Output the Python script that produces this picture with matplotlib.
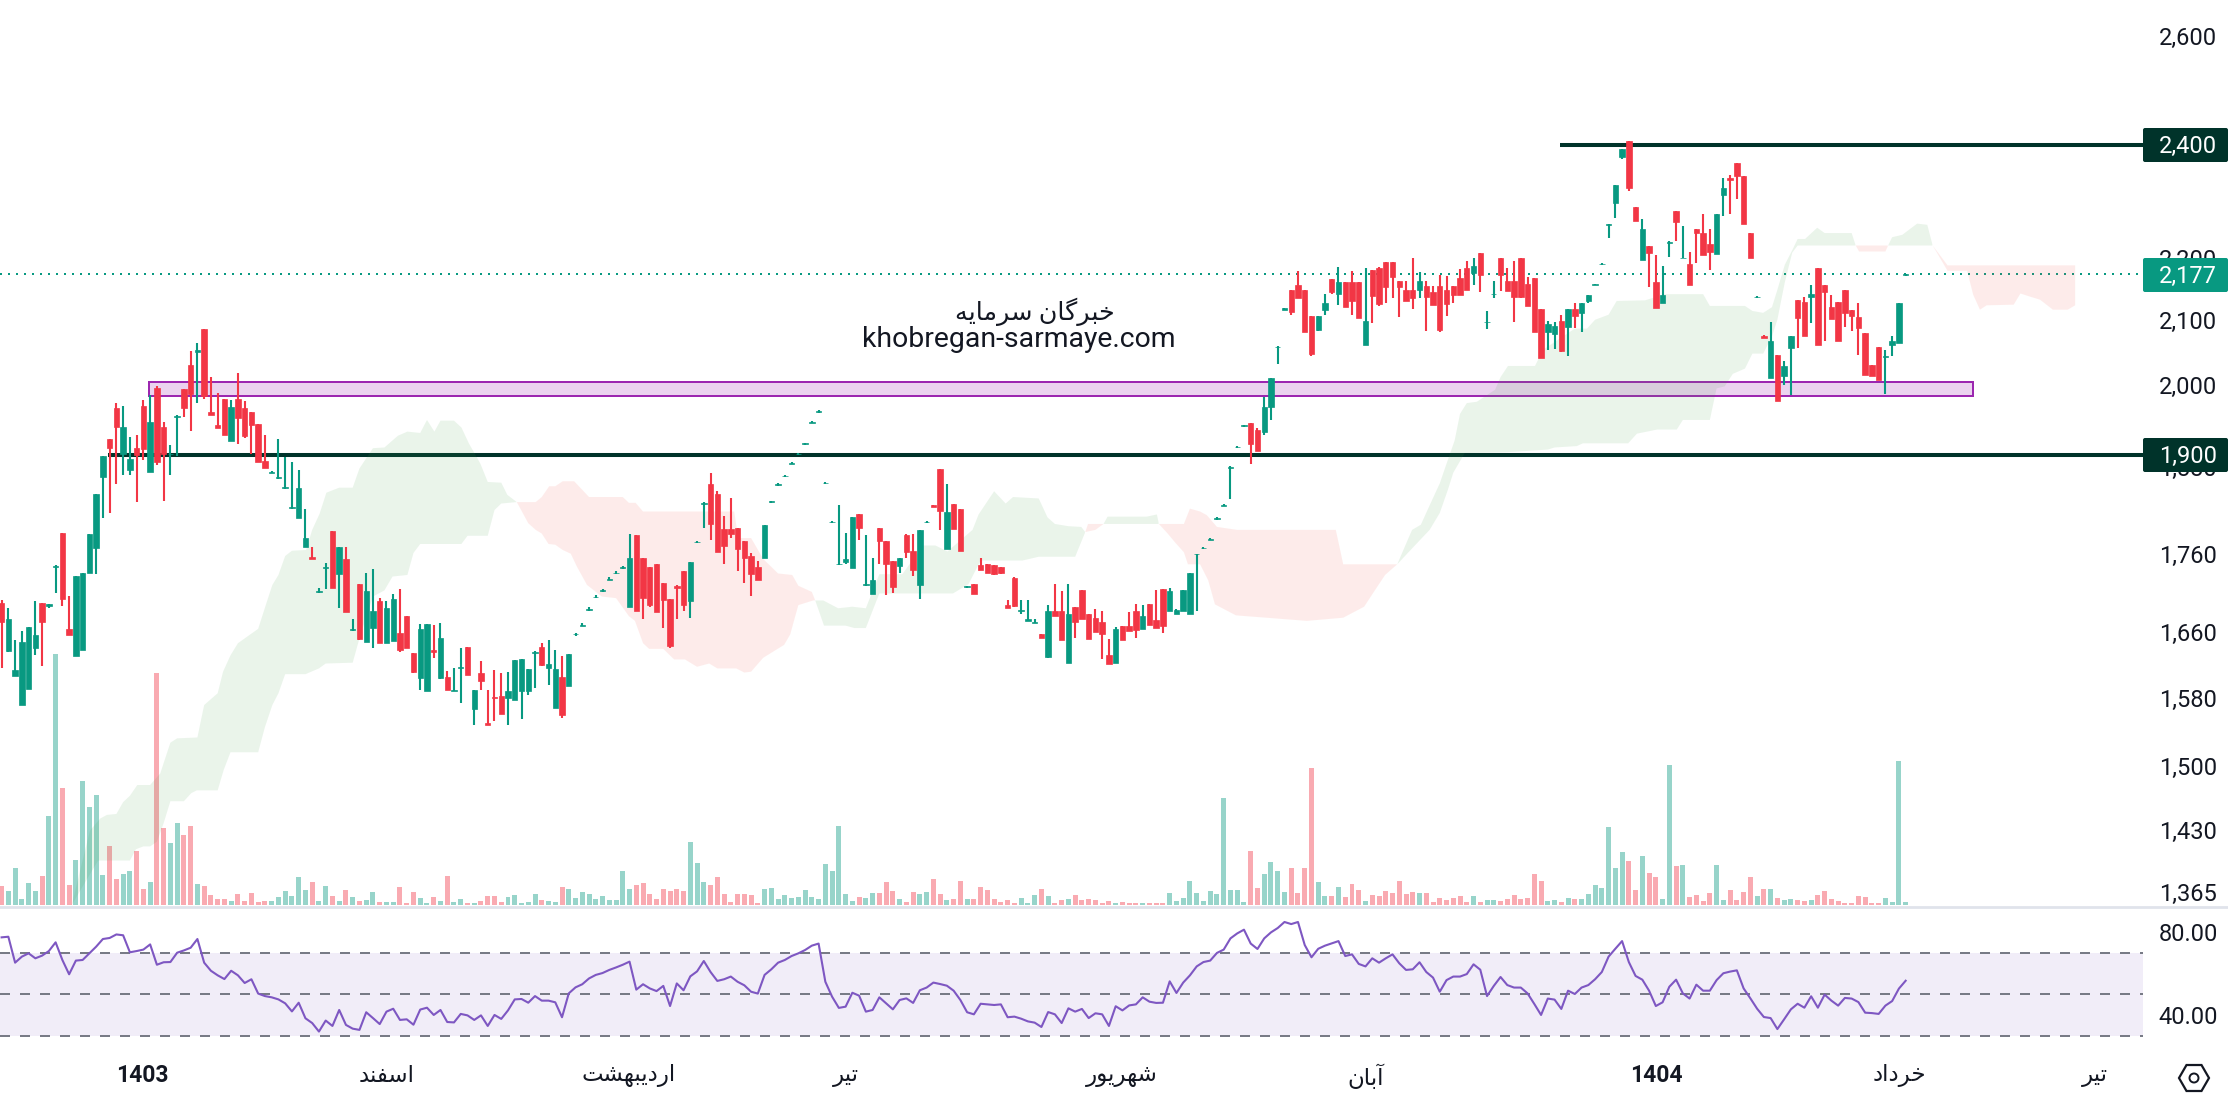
import numpy as np
import matplotlib
matplotlib.use("Agg")
import matplotlib.pyplot as plt
from matplotlib.patches import FancyBboxPatch, RegularPolygon, Circle, Rectangle
from matplotlib.ticker import NullLocator
from matplotlib.transforms import ScaledTranslation

plt.rcParams['font.family'] = ['Roboto', 'DejaVu Sans']

open_ = [1700,1639,1609,1574,1593,1643,1700,1696,1747,1792,1667,1633,1640,1739,1771,1869,1923,1969,1902,1879,
1910,1972,1876,1999,1941,1901,1956,1997,2034,2054,2090,1963,1944,1982,1920,1982,1969,1963,1945,1892,
1875,1868,1854,1826,1812,1773,1760,1714,1745,1795,1737,1757,1666,1724,1651,1668,1702,1649,1652,1662,
1683,1637,1606,1591,1640,1606,1607,1591,1619,1644,1569,1612,1553,1584,1585,1582,1580,1591,1591,1637,
1644,1618,1570,1608,1597,1660,1671,1691,1707,1715,1730,1738,1745,1694,1789,1759,1746,1751,1725,1705,
1721,1741,1702,1779,1832,1859,1845,1797,1797,1798,1781,1761,1747,1758,1834,1858,1870,1888,1901,1916,
1947,1963,1860,1806,1750,1753,1745,1818,1723,1711,1799,1781,1754,1748,1789,1767,1723,1806,1830,1880,
1770,1832,1825,1720,1724,1749,1750,1749,1746,1697,1732,1690,1677,1674,1660,1632,1690,1690,1625,1694,
1716,1686,1681,1676,1634,1625,1670,1670,1690,1667,1698,1678,1718,1689,1686,1689,1686,1763,1771,1783,
1811,1829,1882,1911,1942,1947,1936,1934,1970,2061,2120,2152,2160,2152,2110,2088,2119,2169,2145,2164,
2164,2164,2065,2184,2187,2197,2197,2167,2152,2152,2151,2158,2148,2158,2152,2158,2171,2187,2179,2212,
2100,2145,2204,2167,2167,2204,2161,2171,2121,2085,2082,2102,2093,2121,2115,2134,2160,2194,2260,2297,
2378,2407,2290,2201,2224,2165,2131,2230,2283,2204,2194,2253,2246,2228,2211,2311,2341,2368,2344,2246,
2140,2079,2013,2049,2017,2060,2135,2132,2140,2188,2159,2124,2132,2152,2120,2108,2083,2034,2062,2046,
2065,2067,2176]
high = [1703,1693,1653,1664,1669,1702,1700,1698,1749,1792,1709,1735,1739,1791,1845,1899,1923,1976,1972,1926,
1929,1981,1988,2002,1948,1915,1958,1997,2055,2068,2090,2015,1991,1982,1981,2021,1979,1963,1945,1929,
1877,1923,1897,1890,1879,1824,1773,1719,1752,1795,1773,1773,1679,1724,1739,1744,1706,1702,1711,1718,
1683,1637,1673,1673,1672,1674,1615,1618,1643,1644,1592,1627,1592,1616,1612,1614,1628,1630,1617,1639,
1649,1653,1640,1633,1636,1662,1674,1694,1710,1718,1733,1741,1748,1791,1789,1759,1746,1751,1725,1705,
1723,1741,1753,1781,1834,1874,1850,1815,1839,1798,1781,1765,1755,1802,1836,1860,1872,1890,1903,1918,
1949,1965,1862,1808,1830,1792,1813,1818,1789,1759,1799,1781,1754,1759,1790,1791,1796,1808,1830,1880,
1859,1832,1825,1722,1724,1759,1750,1749,1747,1704,1734,1704,1704,1680,1660,1697,1724,1715,1724,1695,
1716,1686,1692,1690,1654,1669,1670,1688,1698,1697,1698,1716,1718,1719,1692,1716,1738,1764,1773,1785,
1813,1831,1884,1913,1944,1947,1939,1985,2013,2063,2122,2152,2183,2152,2110,2110,2145,2169,2189,2164,
2183,2164,2187,2184,2189,2197,2197,2167,2167,2205,2181,2167,2158,2176,2174,2158,2186,2200,2204,2212,
2118,2167,2204,2187,2200,2205,2173,2171,2121,2102,2100,2111,2121,2131,2131,2144,2162,2196,2262,2328,
2393,2407,2290,2270,2224,2209,2191,2232,2283,2258,2214,2253,2278,2253,2278,2341,2346,2368,2344,2246,
2142,2080,2100,2049,2040,2078,2135,2141,2159,2188,2159,2144,2132,2152,2120,2131,2083,2034,2062,2056,
2079,2131,2177]
low = [1618,1638,1609,1574,1593,1634,1621,1693,1712,1696,1659,1633,1640,1739,1737,1812,1819,1859,1872,1872,
1834,1893,1876,1886,1835,1872,1899,1956,1935,1976,1982,1958,1939,1929,1920,1916,1925,1902,1890,1882,
1874,1866,1852,1824,1812,1773,1757,1712,1718,1719,1693,1688,1664,1653,1651,1643,1649,1649,1652,1638,
1643,1612,1592,1591,1631,1605,1592,1591,1576,1610,1551,1592,1551,1555,1563,1551,1580,1558,1586,1594,
1621,1598,1570,1559,1597,1658,1670,1690,1706,1714,1729,1737,1744,1694,1690,1680,1694,1688,1668,1643,
1680,1690,1681,1778,1799,1782,1766,1751,1785,1741,1725,1709,1729,1758,1833,1857,1869,1887,1900,1915,
1946,1962,1859,1805,1749,1750,1745,1782,1721,1711,1750,1710,1712,1738,1759,1735,1705,1805,1827,1796,
1770,1797,1767,1719,1711,1742,1738,1736,1737,1693,1694,1686,1677,1674,1656,1631,1683,1653,1625,1655,
1680,1654,1663,1630,1624,1625,1653,1664,1655,1667,1672,1668,1662,1689,1686,1689,1686,1690,1770,1782,
1810,1828,1838,1910,1941,1887,1906,1929,1951,2035,2120,2111,2139,2085,2048,2086,2111,2145,2127,2125,
2111,2107,2065,2099,2126,2131,2139,2109,2134,2121,2139,2086,2127,2085,2110,2131,2144,2152,2160,2148,
2089,2139,2150,2150,2100,2139,2126,2085,2044,2057,2058,2054,2048,2091,2085,2131,2159,2193,2237,2271,
2375,2319,2266,2201,2157,2122,2131,2206,2233,2204,2160,2196,2209,2184,2211,2275,2278,2304,2261,2205,
2139,2076,2013,1979,2003,1988,2060,2079,2099,2065,2071,2105,2070,2092,2086,2049,2018,2017,2011,1990,
2048,2067,2175]
close = [1676,1679,1616,1651,1669,1659,1675,1698,1748,1705,1659,1735,1739,1790,1845,1899,1910,1941,1941,1895,
1900,1909,1948,1890,1902,1902,1957,1969,1990,2057,1987,1958,1939,1929,1970,1954,1928,1944,1890,1882,
1876,1869,1855,1827,1854,1785,1757,1715,1746,1719,1773,1688,1667,1654,1715,1690,1649,1693,1705,1640,
1643,1614,1667,1673,1638,1656,1592,1592,1620,1610,1592,1603,1551,1582,1563,1591,1628,1630,1617,1638,
1622,1623,1617,1562,1636,1661,1672,1692,1708,1716,1731,1739,1746,1759,1690,1706,1697,1688,1704,1645,
1719,1697,1753,1780,1833,1804,1766,1774,1790,1770,1758,1737,1730,1802,1835,1859,1871,1889,1902,1917,
1948,1964,1861,1807,1751,1757,1813,1799,1724,1730,1781,1750,1720,1759,1766,1743,1796,1807,1827,1822,
1821,1797,1767,1721,1711,1742,1738,1737,1739,1693,1696,1691,1680,1676,1656,1690,1683,1653,1686,1676,
1680,1654,1663,1661,1624,1667,1653,1664,1665,1683,1672,1668,1670,1715,1691,1716,1738,1764,1772,1784,
1812,1830,1883,1912,1943,1916,1906,1970,2013,2062,2122,2116,2139,2085,2051,2110,2131,2148,2164,2125,
2134,2107,2102,2142,2129,2157,2173,2157,2134,2139,2167,2140,2127,2088,2129,2144,2144,2152,2191,2176,
2101,2146,2176,2150,2140,2140,2126,2085,2044,2097,2094,2055,2121,2110,2131,2144,2161,2195,2261,2328,
2393,2323,2266,2253,2212,2122,2143,2231,2265,2205,2160,2246,2209,2214,2278,2324,2337,2344,2261,2205,
2141,2076,2071,1979,2032,2078,2106,2079,2146,2065,2148,2105,2070,2115,2110,2091,2018,2017,2011,2047,
2071,2131,2177]
volume = [19,14,37,6,22,14,29,89,251,117,20,45,124,98,110,30,59,26,31,34,
54,16,23,232,77,62,82,70,79,21,19,10,6,6,4,11,4,12,3,4,
4,8,14,9,28,15,23,4,19,9,4,15,8,4,5,13,3,3,3,18,
2,13,7,2,8,4,29,3,6,2,2,4,9,9,3,8,10,2,3,11,
5,4,3,18,16,7,13,11,6,9,5,5,34,16,20,22,11,6,16,14,
16,14,63,42,23,20,28,11,3,11,11,10,2,16,17,6,10,7,8,15,
8,6,41,34,79,11,4,8,7,12,12,23,14,6,3,13,11,13,26,11,
5,6,24,6,6,18,15,6,3,5,2,7,2,10,16,9,2,5,6,10,
5,6,5,2,4,2,3,2,2,2,2,2,2,12,4,7,24,12,4,14,
11,107,15,15,3,54,17,31,43,34,13,37,12,37,137,23,9,9,18,8,
21,15,4,10,9,14,12,24,11,13,12,12,3,7,5,7,9,3,9,3,
5,5,4,6,10,6,7,31,24,4,5,3,7,6,6,11,20,17,78,37,
53,44,15,49,32,28,6,140,39,40,8,10,4,12,40,5,15,5,13,28,
9,16,16,7,5,6,5,4,5,10,14,6,4,2,2,9,8,2,2,7,
3,144,3]
rsi = [77.3,77.6,65.1,68.0,69.6,67.2,68.5,70.7,74.9,66.4,59.5,66.1,66.4,69.6,72.8,76.5,77.0,78.7,78.3,70.1,
70.7,71.4,73.9,64.1,65.3,65.4,69.9,71.0,72.3,76.5,65.1,61.2,59.0,57.2,61.2,59.0,55.3,57.1,50.2,49.0,
48.4,47.4,45.5,41.6,45.8,38.3,36.0,31.9,37.2,34.6,42.3,35.1,33.3,32.7,41.2,38.4,35.5,41.5,42.9,37.5,
37.8,35.2,42.5,43.4,39.9,42.3,36.5,36.3,40.4,39.7,37.5,39.7,34.6,39.9,38.0,42.1,47.4,47.6,45.8,49.0,
46.8,46.8,46.0,38.8,50.3,53.2,54.7,57.5,59.2,60.1,61.6,62.8,64.1,65.6,52.1,54.7,52.7,51.4,53.9,44.2,
55.1,51.8,58.5,60.9,65.9,60.6,56.3,57.1,58.4,55.9,54.2,51.1,50.2,59.2,61.9,65.1,66.4,68.3,69.6,71.2,
73.3,74.3,55.9,48.7,43.3,43.9,50.6,49.2,41.5,42.3,48.4,45.5,42.6,47.1,47.9,45.7,51.8,53.1,55.5,54.8,
54.0,51.6,47.1,41.2,40.2,45.3,45.0,44.7,45.0,38.8,39.1,38.1,36.8,36.2,34.1,41.3,40.2,36.0,43.1,41.5,
42.8,38.4,40.7,40.2,34.6,44.1,42.1,44.5,45.0,48.4,46.3,45.7,45.8,56.1,50.5,55.5,59.0,63.3,65.4,66.1,
69.8,71.4,76.8,79.2,81.0,74.3,71.7,76.8,79.7,81.8,84.7,83.7,84.7,73.6,67.7,71.8,73.3,74.4,75.5,68.3,
69.1,64.5,63.3,67.2,65.1,67.2,69.1,64.8,61.6,61.9,65.3,60.6,57.9,51.1,56.7,58.4,58.4,59.6,64.3,61.7,
49.0,53.9,58.2,54.3,53.1,53.1,50.3,45.2,39.9,47.8,47.3,42.8,51.6,50.0,53.1,54.3,57.1,60.6,68.0,71.8,
75.5,65.4,58.7,56.9,51.6,44.2,46.0,53.5,56.9,50.3,47.8,54.5,51.6,51.6,56.7,60.0,60.8,61.4,52.7,47.9,
42.9,38.9,38.4,33.1,37.8,42.6,45.3,43.4,48.9,43.4,49.7,46.8,44.4,48.1,47.8,46.1,41.0,40.8,40.4,44.4,
46.6,52.6,56.4]

span_a_x = [10.4,13.1,14.6,15.6,17,18,19,20.1,22,23.5,25,26,29,30,32,32.8,33.9,35,38,38.9,40.1,41,42,43,45.1,46,47.1,48.1,50,52,53,55,56.7,58.7,60.1,62,63,64.1,65,67,68.1,69.2,70.9,72,74,74.9,76.3,
78,79.1,80,81,82,83.1,84.3,85.2,86.7,88.9,91,92.9,93.8,95,95.9,98,99.6,101.2,103,104.8,106,108.8,110,111,112.8,115.9,116.8,118,120.2,120.5,
121.7,123.9,126,128,130,133.4,136.5,138.3,140.1,143.8,144.7,147,148.7,149.8,153.6,154.9,156,158,159.9,160.5,162,163.2,163.8,169.6,171.1,171.4,172.7,173.9,175.1,175.7,177.5,178.7,179.7,182.8,193.3,198.7,201.8,204.9,206.7,
208.9,210.2,213,215.2,216,217,218.5,221.2,222,223.1,227.1,228.3,232,233,234.8,236,238,239.2,243.4,246.4,252,253,258.2,259.3,260.9,262.2,263,264.1,265.2,266,267.1,268.9,270,274,274.6,275.1,279,279.4,280,281.5,283.7,285.2,286,288.2,291.1,292,293,294,298,299,300.4,301.9,303.8,306,307.1]
span_a = [1354,1432,1445,1449,1450,1463,1470,1482,1482,1495,1530,1535,1536,1574,1588,1614,1634,1649,1667,1691,1723,1736,1761,1768,1769,1796,1818,1847,1854,1854,1881,1910,1911,1928,1934,1932,1951,1934,1950,1950,1940,1917,1888,1862,1861,1844,1834,
1805,1796,1791,1777,1776,1769,1764,1747,1723,1708,1706,1683,1677,1649,1642,1642,1629,1629,1620,1624,1618,1618,1613,1614,1631,1647,1660,1697,1703,1703,
1703,1693,1695,1693,1737,1737,1775,1775,1767,1796,1817,1849,1832,1841,1839,1813,1804,1801,1800,1793,1796,1804,1814,1814,1817,1804,1791,1778,1766,1750,1750,1729,1698,1684,1677,1681,1695,1736,1750,
1796,1803,1860,1921,1960,1976,1978,1996,2015,2032,2032,2057,2083,2090,2090,2104,2112,2134,2135,2145,2145,2126,2126,2118,2115,2124,2152,2193,2217,2236,2236,2255,2246,2246,2225,2215,2215,2225,2239,2243,2262,2260,2225,2183,2183,2144,2120,2127,2128,2146,2141,2136,2120,2120,2127]
span_b_x = [10.4,14.3,19,19.9,21,22,23,24,25,27,28.1,28.9,32,32.9,33.9,38,39,40.1,41,42,45,47,48,52,53,55,56.7,57.9,60.1,61,62,68.1,69,72,73,74,76.3,
79.1,80,81.1,82,83.1,84.8,87,92,92.9,93.9,95,103.9,108.5,109.1,111,112.8,115,117.1,118,120,120.5,
121.8,125,126.3,128,130,140.9,143.2,145,151.2,153.6,159,160.5,160.9,171.4,175.1,176,177.5,178.5,180,183,197.6,198.7,206.7,
211.5,213,214.2,215,216.7,222.7,229,230,233.3,234.2,240.9,242.2,245.2,248.1,249,253,254,255.2,256.4,258.2,259.3,260.9,262.2,263,264.1,265.2,266,286,288.2,307.1]
span_b = [1354,1400,1400,1412,1415,1415,1420,1440,1464,1464,1473,1476,1476,1499,1519,1519,1548,1574,1588,1611,1611,1618,1624,1625,1655,1708,1716,1734,1736,1765,1777,1777,1788,1788,1823,1832,1834,
1834,1841,1856,1856,1863,1863,1841,1841,1833,1833,1821,1821,1821,1785,1785,1757,1738,1736,1722,1714,1703,
1671,1671,1668,1668,1712,1712,1724,1755,1755,1760,1760,1793,1804,1804,1804,1825,1821,1816,1800,1796,1796,1750,1750,
1796,1819,1851,1875,1903,1904,1908,1911,1913,1917,1917,1931,1937,1937,1951,1951,1998,2001,2020,2028,2051,2051,2078,2104,2164,2213,2225,2225,2192,2192]

price_ticks = [2600, 2200, 2100, 2000, 1880, 1760, 1660, 1580, 1500, 1430, 1365]
rsi_ticks = [80, 40]
time_ticks = [20.9, 57, 92.9, 125, 165.9, 202, 245, 281, 310]
time_labels = ['1403', 'اسفند', 'اردیبهشت', 'تیر', 'شهریور', 'آبان', '1404', 'خرداد', 'تیر']
bold_labels = {'1403', '1404'}
levels = {'resistance': 2400, 'support': 1900, 'last': 2177}
level_start = {'resistance': 230.8, 'support': 15.8}
zone = dict(left=21.8, right=292, top=2007, bottom=1987)
watermark = ['خبرگان سرمایه', 'khobregan-sarmaye.com']

UP, DOWN = '#089981', '#F23645'
DARK = '#00332A'
TEXT = '#131722'

FORMS = {'ا': (0xFE8D, 0xFE8E), 'آ': (0xFE81, 0xFE82), 'د': (0xFEA9, 0xFEAA), 'ر': (0xFEAD, 0xFEAE), 'و': (0xFEED, 0xFEEE),
         'ب': (0xFE8F, 0xFE90, 0xFE91, 0xFE92), 'ت': (0xFE95, 0xFE96, 0xFE97, 0xFE98), 'خ': (0xFEA5, 0xFEA6, 0xFEA7, 0xFEA8),
         'س': (0xFEB1, 0xFEB2, 0xFEB3, 0xFEB4), 'ش': (0xFEB5, 0xFEB6, 0xFEB7, 0xFEB8), 'ف': (0xFED1, 0xFED2, 0xFED3, 0xFED4),
         'ن': (0xFEE5, 0xFEE6, 0xFEE7, 0xFEE8), 'ه': (0xFEE9, 0xFEEA, 0xFEEB, 0xFEEC), 'ی': (0xFBFC, 0xFBFD, 0xFBFE, 0xFBFF),
         'گ': (0xFB92, 0xFB93, 0xFB94, 0xFB95), 'م': (0xFEE1, 0xFEE2, 0xFEE3, 0xFEE4)}


def shape(text):
    if not any(ch in FORMS for ch in text):
        return text
    out = []
    for k, ch in enumerate(text):
        if ch not in FORMS:
            out.append(ch)
            continue
        f = FORMS[ch]
        prev = text[k - 1] if k else ' '
        nxt = text[k + 1] if k + 1 < len(text) else ' '
        joins_prev = prev in FORMS and len(FORMS[prev]) == 4
        joins_next = len(f) == 4 and nxt in FORMS
        if joins_prev and joins_next:
            out.append(chr(f[3]))
        elif joins_next:
            out.append(chr(f[2]))
        elif joins_prev:
            out.append(chr(f[1]))
        else:
            out.append(chr(f[0]))
    return ''.join(reversed(out))


W, H = 2228, 1104
PLOT_R, VOL_B, RSI_T, RSI_B = 2143, 905, 908, 1060
fig = plt.figure(figsize=(W / 100, H / 100), dpi=100, facecolor='white')


def px_axes(x0, y0, x1, y1, **kw):
    return fig.add_axes([x0 / W, 1 - y1 / H, (x1 - x0) / W, (y1 - y0) / H], **kw)


xs = np.arange(len(close))
xlim = (-0.237, (PLOT_R - 1.6) / 6.752)

# volume pane, under the price pane
axv = px_axes(0, 0, PLOT_R, VOL_B, zorder=1)
vol_colors = [UP if c >= o else DOWN for o, c in zip(open_, close)]
axv.bar(xs, volume, width=0.74, color=vol_colors, alpha=0.42, linewidth=0)
axv.set_xlim(xlim)
axv.set_ylim(0, VOL_B)
axv.axis('off')

# price pane
ax = px_axes(0, 0, PLOT_R, VOL_B, zorder=2)
ax.patch.set_alpha(0)
ax.set_yscale('log')
ax.set_xlim(xlim)
ax.set_ylim(1353.9, 2677)
grid = np.arange(10.4, 307.1, 0.05)
a = np.interp(grid, span_a_x, span_a)
b = np.interp(grid, span_b_x, span_b)
ax.fill_between(grid, a, b, where=a >= b, color='#43A047', alpha=0.11, linewidth=0, zorder=2)
ax.fill_between(grid, a, b, where=a < b, color='#F44336', alpha=0.10, linewidth=0, zorder=2)
ax.add_patch(Rectangle((zone['left'], zone['bottom']), zone['right'] - zone['left'], zone['top'] - zone['bottom'],
                       facecolor='#9C27B0', alpha=0.2, linewidth=0, zorder=1))
ax.add_patch(Rectangle((zone['left'], zone['bottom']), zone['right'] - zone['left'], zone['top'] - zone['bottom'],
                       facecolor='none', edgecolor='#9C27B0', linewidth=1.44, zorder=1.5))
for key in ('resistance', 'support'):
    ax.hlines(levels[key], level_start[key], xlim[1], color=DARK, linewidth=2.9, zorder=1.6)
ax.axhline(levels['last'], color=UP, linewidth=1.44, linestyle=(0, (1, 3)), zorder=1.7)
colors = [UP if c >= o else DOWN for o, c in zip(open_, close)]
ax.vlines(xs, low, high, colors=colors, linewidth=1.5, zorder=3, capstyle='butt')
bottoms = np.minimum(open_, close)
heights = np.abs(np.array(open_) - np.array(close))
ax.bar(xs, heights, bottom=bottoms, width=0.8, color=colors, edgecolor=colors, linewidth=0.5, zorder=4)
ax.yaxis.tick_right()
ax.yaxis.set_minor_locator(NullLocator())
ax.set_yticks(price_ticks)
ax.set_yticklabels([f'{t:,}' for t in price_ticks], fontsize=17, color=TEXT, ha='right')
ax.yaxis.set_minor_locator(NullLocator())
ax.tick_params(axis='y', length=0, pad=53.3)
lift = ScaledTranslation(0, 2.5 / 100, fig.dpi_scale_trans)
for lab in ax.get_yticklabels():
    lab.set_transform(lab.get_transform() + lift)
ax.set_xticks([])
for s in ax.spines.values():
    s.set_visible(False)

# RSI pane
axr = px_axes(0, RSI_T, PLOT_R, RSI_B, zorder=2)
axr.set_xlim(xlim)
axr.set_ylim(50 - (RSI_B - 994) / 2.075, 50 + (994 - RSI_T) / 2.075)
axr.axhspan(30, 70, color='#7E57C2', alpha=0.105, linewidth=0)
for lvl in (30, 50, 70):
    axr.axhline(lvl, color='#787B86', linewidth=1.44, linestyle=(0, (5, 5)))
axr.plot(xs, rsi, color='#7E57C2', linewidth=1.5)
axr.yaxis.tick_right()
axr.set_yticks(rsi_ticks)
axr.set_yticklabels([f'{t:.2f}' for t in rsi_ticks], fontsize=17, color=TEXT, ha='right')
axr.tick_params(axis='y', length=0, pad=54)
axr.set_xticks(time_ticks)
axr.set_xticklabels([shape(t) for t in time_labels], fontsize=16.5, color=TEXT)
for lab, raw in zip(axr.get_xticklabels(), time_labels):
    if raw in bold_labels:
        lab.set_fontweight('bold')
axr.tick_params(axis='x', length=0, pad=3)
for s in axr.spines.values():
    s.set_visible(False)

# overlay: price badges, watermark, pane divider, settings icon
ov = px_axes(0, 0, W, H, zorder=5)
ov.set_xlim(0, W)
ov.set_ylim(H, 0)
ov.axis('off')
ov.patch.set_alpha(0)
ov.plot([0, W], [906.5, 906.5], color='#E0E3EB', linewidth=2)
for (y0, value, col) in ((128, levels['resistance'], DARK), (258, levels['last'], UP), (438, levels['support'], DARK)):
    ov.add_patch(FancyBboxPatch((2143, y0), 85, 34, boxstyle='round,pad=0,rounding_size=2', facecolor=col, linewidth=0))
    ov.text(2217, y0 + 18, f'{value:,}', color='white', fontsize=17, ha='right', va='center')
ov.text(1035, 311.5, shape(watermark[0]), fontsize=18.3, color=TEXT, ha='center', va='center')
ov.text(1019, 339.5, watermark[1], fontsize=20.4, color=TEXT, ha='center', va='center')
ov.add_patch(RegularPolygon((2194, 1078), 6, radius=15, orientation=np.pi / 6, facecolor='none', edgecolor=TEXT, linewidth=1.6))
ov.add_patch(Circle((2194, 1078), 4.5, facecolor='none', edgecolor=TEXT, linewidth=1.4))

fig.savefig('out.png', dpi=100)
